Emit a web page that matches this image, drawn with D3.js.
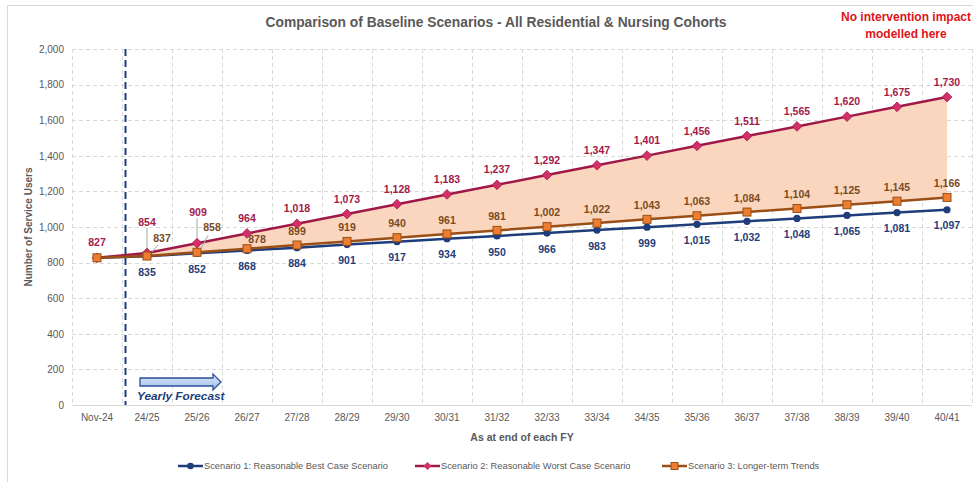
<!DOCTYPE html>
<html>
<head>
<meta charset="utf-8">
<script src="https://cdn.jsdelivr.net/npm/d3@7"></script>
<style>
  html, body { margin: 0; padding: 0; background: #fff; }
  svg { display: block; font-family: "Liberation Sans", Arial, sans-serif; }
</style>
</head>
<body>
<svg id="chart" width="973" height="482"></svg>
<script>
// Financial-year categories along the x axis
const categories = ["Nov-24", "24/25", "25/26", "26/27", "27/28", "28/29", "29/30", "30/31", "31/32",
  "32/33", "33/34", "34/35", "35/36", "36/37", "37/38", "38/39", "39/40", "40/41"];

// Number of service users per scenario
const bestCase = [827, 835, 852, 868, 884, 901, 917, 934, 950, 966, 983, 999, 1015, 1032, 1048, 1065, 1081, 1097];
const worstCase = [827, 854, 909, 964, 1018, 1073, 1128, 1183, 1237, 1292, 1347, 1401, 1456, 1511, 1565, 1620, 1675, 1730];
const longerTerm = [827, 837, 858, 878, 899, 919, 940, 961, 981, 1002, 1022, 1043, 1063, 1084, 1104, 1125, 1145, 1166];

const yTicks = [0, 200, 400, 600, 800, 1000, 1200, 1400, 1600, 1800, 2000];

const seriesNames = [
  "Scenario 1: Reasonable Best Case Scenario",
  "Scenario 2: Reasonable Worst Case Scenario",
  "Scenario 3: Longer-term Trends"
];

const svg = d3.select("#chart");
const W = 973, H = 482;
const plot = { left: 72, right: 972, top: 49, bottom: 405 };

const x = d3.scaleBand().domain(categories).range([plot.left, plot.right]).padding(0);
const cx = c => x(c) + x.bandwidth() / 2;
const y = d3.scaleLinear().domain([0, 2000]).range([plot.bottom, plot.top]);

const gridColor = "#d9d9d9";
const textGrey = "#595959";
const blue = "#1f3d7a", red = "#a01848", redMarker = "#d3306a", brown = "#9a4f17", orange = "#ed7d31";

// Outer chart frame
svg.append("rect").attr("x", 7.5).attr("y", 5.5).attr("width", W).attr("height", H)
  .attr("fill", "none").attr("stroke", "#d9d9d9").attr("stroke-width", 1);

// Title and annotation
svg.append("text").attr("x", 496).attr("y", 27).attr("text-anchor", "middle")
  .attr("font-size", 13.8).attr("font-weight", "bold").attr("fill", textGrey)
  .text("Comparison of Baseline Scenarios - All Residential & Nursing Cohorts");
const note = svg.append("text").attr("text-anchor", "middle").attr("font-size", 12)
  .attr("font-weight", "bold").attr("fill", "#e0131a");
note.append("tspan").attr("x", 906).attr("y", 21).text("No intervention impact");
note.append("tspan").attr("x", 906).attr("y", 38).text("modelled here");

// Gridlines
const grid = svg.append("g").attr("stroke", gridColor).attr("stroke-width", 1).attr("stroke-dasharray", "4,3");
grid.selectAll("line.h").data(yTicks.filter(t => t > 0)).join("line")
  .attr("x1", plot.left).attr("x2", plot.right)
  .attr("y1", d => Math.round(y(d)) + 0.5).attr("y2", d => Math.round(y(d)) + 0.5);
grid.selectAll("line.v").data(categories).join("line")
  .attr("x1", (d, i) => plot.left + (i + 1) * x.bandwidth() + 0.5)
  .attr("x2", (d, i) => plot.left + (i + 1) * x.bandwidth() + 0.5)
  .attr("y1", plot.top).attr("y2", plot.bottom);
svg.append("line").attr("x1", plot.left + 0.5).attr("x2", plot.left + 0.5)
  .attr("y1", plot.top).attr("y2", plot.bottom).attr("stroke", gridColor).attr("stroke-dasharray", "4,3");

// Baseline axis line
svg.append("line").attr("x1", plot.left).attr("x2", plot.right)
  .attr("y1", plot.bottom + 0.5).attr("y2", plot.bottom + 0.5).attr("stroke", "#d9d9d9");

// Y axis
const yAxis = d3.axisLeft(y).tickValues(yTicks).tickFormat(d3.format(",")).tickSize(0).tickPadding(8);
const gy = svg.append("g").attr("transform", `translate(${plot.left},0)`).call(yAxis);
gy.select(".domain").remove();
gy.selectAll("text").attr("fill", textGrey).attr("font-size", 10)
  .attr("font-family", "Liberation Sans, Arial, sans-serif");

// X axis
const xAxis = d3.axisBottom(x).tickSize(0).tickPadding(9);
const gx = svg.append("g").attr("transform", `translate(0,${plot.bottom})`).call(xAxis);
gx.select(".domain").remove();
gx.selectAll("text").attr("fill", textGrey).attr("font-size", 10)
  .attr("font-family", "Liberation Sans, Arial, sans-serif");

// Axis titles
svg.append("text").attr("transform", `translate(32,227) rotate(-90)`).attr("text-anchor", "middle")
  .attr("font-size", 10).attr("font-weight", "bold").attr("fill", textGrey).text("Number of Service Users");
svg.append("text").attr("x", 522).attr("y", 441).attr("text-anchor", "middle")
  .attr("font-size", 10.5).attr("font-weight", "bold").attr("fill", textGrey).text("As at end of each FY");

// Shaded range between worst case and longer-term trend
const area = d3.area().x((d, i) => cx(categories[i])).y0((d, i) => y(longerTerm[i])).y1(d => y(d));
svg.append("path").datum(worstCase).attr("d", area).attr("fill", "#fad6be");

// Forecast divider
svg.append("line").attr("x1", x(categories[1]) + 3.5).attr("x2", x(categories[1]) + 3.5)
  .attr("y1", plot.top).attr("y2", plot.bottom)
  .attr("stroke", "#1f3d7a").attr("stroke-width", 2).attr("stroke-dasharray", "7,4");

// Yearly forecast arrow
const defs = svg.append("defs");
const grad = defs.append("linearGradient").attr("id", "arrowFill").attr("x1", 0).attr("x2", 0).attr("y1", 0).attr("y2", 1);
grad.append("stop").attr("offset", "0%").attr("stop-color", "#dbe8f7");
grad.append("stop").attr("offset", "100%").attr("stop-color", "#9ec0e8");
const ax0 = x(categories[1]) + 18, ax1 = ax0 + 81, ay = 382;
svg.append("path")
  .attr("d", `M${ax0},${ay - 4} L${ax1 - 8},${ay - 4} L${ax1 - 8},${ay - 8} L${ax1},${ay} L${ax1 - 8},${ay + 8} L${ax1 - 8},${ay + 4} L${ax0},${ay + 4} Z`)
  .attr("fill", "url(#arrowFill)").attr("stroke", "#2f4f9a").attr("stroke-width", 1.3);
svg.append("text").attr("x", ax0 - 3).attr("y", 400).attr("font-size", 11.8).attr("font-weight", "bold")
  .attr("font-style", "italic").attr("fill", "#1f3d7a").text("Yearly Forecast");

// Lines
const line = d3.line().x((d, i) => cx(categories[i])).y(d => y(d));
svg.append("path").datum(bestCase).attr("d", line).attr("fill", "none").attr("stroke", blue).attr("stroke-width", 2.5);
svg.append("path").datum(worstCase).attr("d", line).attr("fill", "none").attr("stroke", red).attr("stroke-width", 2.5);
svg.append("path").datum(longerTerm).attr("d", line).attr("fill", "none").attr("stroke", brown).attr("stroke-width", 2.5);

// Markers
svg.append("g").selectAll("circle").data(bestCase).join("circle")
  .attr("cx", (d, i) => cx(categories[i])).attr("cy", d => y(d)).attr("r", 3.6).attr("fill", blue);
const diamond = d3.symbol().type(d3.symbolDiamond2).size(60);
svg.append("g").selectAll("path").data(worstCase).join("path")
  .attr("transform", (d, i) => `translate(${cx(categories[i])},${y(d)})`)
  .attr("d", diamond).attr("fill", redMarker).attr("stroke", red).attr("stroke-width", 0.8);
svg.append("g").selectAll("rect").data(longerTerm).join("rect")
  .attr("x", (d, i) => cx(categories[i]) - 4).attr("y", d => y(d) - 4)
  .attr("width", 8).attr("height", 8).attr("fill", orange).attr("stroke", brown).attr("stroke-width", 1);

// Data labels
const fmt = d3.format(",");
const labelOffsets = {
  worst: { 1: { dx: 0, dy: -31 }, 2: { dx: 1, dy: -31 } },
  longer: { 1: { dx: 15, dy: -18 }, 2: { dx: 15, dy: -25 }, 3: { dx: 10, dy: -9 } },
  best: {}
};
// Leader lines for the crowded early labels
const leaders = [
  { v: worstCase, i: 1, from: [0, -25], to: [0, -5] },
  { v: worstCase, i: 2, from: [0, -25], to: [0, -5] },
  { v: longerTerm, i: 1, from: [11, -11], to: [5, -4] },
  { v: longerTerm, i: 2, from: [11, -17], to: [4, -4] }
];
svg.append("g").selectAll("line").data(leaders).join("line")
  .attr("x1", d => cx(categories[d.i]) + d.from[0]).attr("y1", d => y(d.v[d.i]) + d.from[1])
  .attr("x2", d => cx(categories[d.i]) + d.to[0]).attr("y2", d => y(d.v[d.i]) + d.to[1])
  .attr("stroke", "#a6a6a6").attr("stroke-width", 1);

function labels(values, color, key, baseDy, skipFirst) {
  const items = values.map((v, i) => ({ v, i })).filter(d => !(skipFirst && d.i === 0));
  svg.append("g").selectAll("text").data(items).join("text")
    .attr("x", d => cx(categories[d.i]) + (labelOffsets[key][d.i] ? labelOffsets[key][d.i].dx : 0))
    .attr("y", d => y(d.v) + (labelOffsets[key][d.i] ? labelOffsets[key][d.i].dy : baseDy))
    .attr("dy", "0.35em").attr("text-anchor", "middle")
    .attr("font-size", 10.5).attr("font-weight", "bold").attr("fill", color)
    .text(d => fmt(d.v));
}
labels(worstCase, "#a3194c", "worst", -15, false);
labels(longerTerm, "#7a4a1e", "longer", -14, true);
labels(bestCase, "#1f3d7a", "best", 16, true);

// Legend
const legend = [
  { name: seriesNames[0], color: blue, x: 178, marker: "circle" },
  { name: seriesNames[1], color: red, x: 415, marker: "diamond" },
  { name: seriesNames[2], color: brown, x: 662, marker: "square" }
];
const lg = svg.append("g");
legend.forEach(l => {
  const ly = 466;
  lg.append("line").attr("x1", l.x).attr("x2", l.x + 25).attr("y1", ly).attr("y2", ly)
    .attr("stroke", l.color).attr("stroke-width", 2.5);
  const mx = l.x + 12.5;
  if (l.marker === "circle") lg.append("circle").attr("cx", mx).attr("cy", ly).attr("r", 3.3).attr("fill", blue);
  if (l.marker === "diamond") lg.append("path").attr("transform", `translate(${mx},${ly})`)
    .attr("d", d3.symbol().type(d3.symbolDiamond2).size(40)).attr("fill", redMarker);
  if (l.marker === "square") lg.append("rect").attr("x", mx - 3.5).attr("y", ly - 3.5).attr("width", 7).attr("height", 7)
    .attr("fill", orange).attr("stroke", brown);
  lg.append("text").attr("x", l.x + 26).attr("y", ly).attr("dy", "0.35em")
    .attr("font-size", 9.3).attr("fill", textGrey).text(l.name);
});
</script>
</body>
</html>
